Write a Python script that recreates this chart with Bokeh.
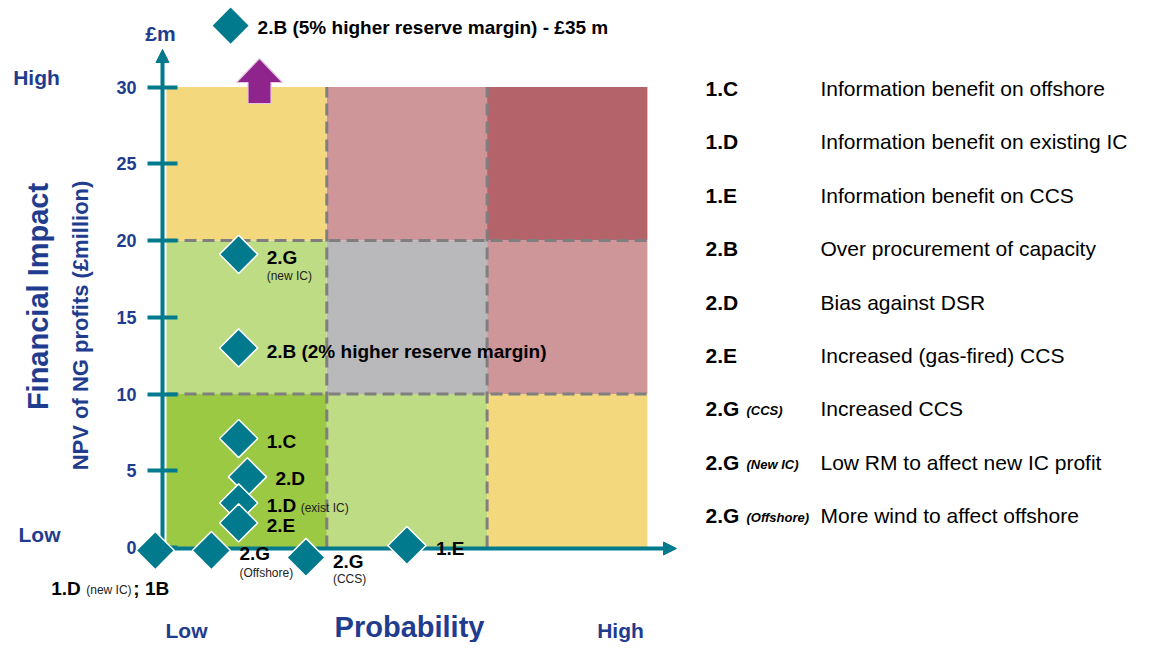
import numpy as np
from bokeh.plotting import figure
from bokeh.models import LinearAxis, FixedTicker, Arrow, NormalHead
from bokeh.core.properties import value
from bokeh.embed import file_html
from bokeh.resources import INLINE

# ---------------- data ----------------
prob_edges = [0, 1, 2, 3]          # Low / Medium / High probability bands
impact_edges = [0, 10, 20, 30]     # NPV bands (£m)
cell_colors = [                    # rows bottom -> top, columns low -> high
    ["#9CC943", "#BEDC84", "#F4D87E"],
    ["#BEDC84", "#B9B9BB", "#CF969A"],
    ["#F4D87E", "#CF969A", "#B5636A"],
]
y_ticks = [0, 5, 10, 15, 20, 25, 30]

risk_ids = ["2.B (5%)", "2.G (new IC)", "2.B (2%)", "1.C", "2.D", "1.D (exist IC)",
            "2.E", "1.D (new IC); 1B", "2.G (Offshore)", "2.G (CCS)", "1.E"]
probability = [0.40, 0.45, 0.45, 0.45, 0.505, 0.45, 0.45, -0.07, 0.28, 0.87, 1.50]
npv = [34.0, 19.1, 13.0, 7.1, 4.6, 2.9, 1.6, -0.2, -0.2, -0.65, 0.13]
main_labels = ["2.B (5% higher reserve margin) - £35 m", "2.G", "2.B (2% higher reserve margin)",
               "1.C", "2.D", "1.D", "2.E", "1.D", "2.G", "2.G", "1.E"]
sub_labels = ["", "(new IC)", "", "", "", "(exist IC)", "", "(new IC)", "(Offshore)", "(CCS)", ""]
extra_labels = ["", "", "", "", "", "", "", "; 1B", "", "", ""]

legend_codes = ["1.C", "1.D", "1.E", "2.B", "2.D", "2.E", "2.G", "2.G", "2.G"]
legend_quals = ["", "", "", "", "", "", "(CCS)", "(New IC)", "(Offshore)"]
legend_desc = ["Information benefit on offshore", "Information benefit on existing IC",
               "Information benefit on CCS", "Over procurement of capacity",
               "Bias against DSR", "Increased (gas-fired) CCS", "Increased CCS",
               "Low RM to affect new IC profit", "More wind to affect offshore"]

# ---------------- layout / style ----------------
W, H = 1137, 642
PX0, PY0, SX, SY = 166.0, 547.0, 160.3, 15.35   # px of data origin, px per unit


def X(px):
    return (px - PX0) / SX


def Y(py):
    return (PY0 - py) / SY


TEAL = "#007A8C"
NAVY = "#1F3C8E"
FONT = value("Liberation Sans")

p = figure(width=W, height=H, x_range=(X(0), X(W)), y_range=(Y(H), Y(0)),
           output_backend="svg", toolbar_location=None, x_axis_type=None, y_axis_type=None,
           min_border=0, outline_line_color=None, background_fill_color="white")
p.xgrid.visible = False
p.ygrid.visible = False

# cells
lefts, rights, bottoms, tops, colors = [], [], [], [], []
for r in range(3):
    for c in range(3):
        lefts.append(prob_edges[c]); rights.append(prob_edges[c + 1])
        bottoms.append(impact_edges[r]); tops.append(impact_edges[r + 1])
        colors.append(cell_colors[r][c])
p.quad(left=lefts, right=rights, bottom=bottoms, top=tops, fill_color=colors, line_color=None)

# dashed grid
hy = impact_edges[1:3]
p.segment(x0=[prob_edges[0]] * 2, x1=[prob_edges[-1]] * 2, y0=hy, y1=hy,
          line_color="#7F7F7F", line_width=3, line_dash="12 6")
vx = prob_edges[1:3]
p.segment(x0=vx, x1=vx, y0=[impact_edges[0]] * 2, y1=[impact_edges[-1]] * 2,
          line_color="#7F7F7F", line_width=3, line_dash="12 6")

# axes lines with arrows
ax_x = X(162)
ax_y = Y(548)
p.add_layout(Arrow(end=NormalHead(size=13, fill_color=TEAL, line_color=TEAL),
                   x_start=ax_x, y_start=ax_y, x_end=ax_x, y_end=Y(49),
                   line_color=TEAL, line_width=4))
p.add_layout(Arrow(end=NormalHead(size=13, fill_color=TEAL, line_color=TEAL),
                   x_start=ax_x, y_start=ax_y, x_end=X(676), y_end=ax_y,
                   line_color=TEAL, line_width=4))

yaxis = LinearAxis(fixed_location=ax_x, ticker=FixedTicker(ticks=y_ticks),
                   axis_line_color=None, major_tick_in=15, major_tick_out=15,
                   major_tick_line_color=TEAL, major_tick_line_width=4,
                   minor_tick_line_color=None, major_label_standoff=11,
                   major_label_text_font="Liberation Sans", major_label_text_font_size="18px",
                   major_label_text_font_style="bold", major_label_text_color=NAVY)
p.add_layout(yaxis, "left")

# purple "off the scale" arrow (shape in pixel units around an anchor)
ax_c, ay_b = X(259), Y(103)
shape_px = [(0, 45), (23, 21), (11.5, 21), (11.5, 0), (-11.5, 0), (-11.5, 21), (-23, 21)]
p.patch([ax_c + dx / SX for dx, dy in shape_px], [ay_b + dy / SY for dx, dy in shape_px],
        fill_color="#8E248C", line_color="#E6C3E3", line_width=1.2)

# diamonds
p.scatter(x=probability, y=npv, marker="square", angle=np.pi / 4, size=27,
          fill_color=TEAL, line_color="white", line_width=1.5, level="overlay")

# labels
main_dx = [27, 28, 28, 28, 28, 28, 28, -104, 28, 27, 29]
main_dy = [2, 3, 4, 3, 2, 3, 3, 38, 3, 4, 3]
sub_dx = [0, 28, 0, 0, 0, 62, 0, -69, 28, 27, 0]
sub_dy = [0, 22, 0, 0, 0, 5, 0, 39, 22, 22, 0]
extra_dx = [0, 0, 0, 0, 0, 0, 0, -22, 0, 0, 0]
extra_dy = [0, 0, 0, 0, 0, 0, 0, 38, 0, 0, 0]
p.text(x=probability, y=npv, text=main_labels, x_offset=main_dx, y_offset=main_dy,
       text_font=FONT, text_font_size="19px", text_font_style="bold", text_color="black",
       text_baseline="middle", text_align="left", level="overlay")
p.text(x=probability, y=npv, text=sub_labels, x_offset=sub_dx, y_offset=sub_dy,
       text_font=FONT, text_font_size="12px", text_color="#222222",
       text_baseline="middle", text_align="left", level="overlay")
p.text(x=probability, y=npv, text=extra_labels, x_offset=extra_dx, y_offset=extra_dy,
       text_font=FONT, text_font_size="19px", text_font_style="bold", text_color="black",
       text_baseline="middle", text_align="left", level="overlay")

# axis titles and band labels
p.text(x=[X(37)], y=[Y(296)], text=["Financial Impact"], angle=np.pi / 2,
       text_font=FONT, text_font_size="29px", text_font_style="bold", text_color=NAVY,
       text_align="center", text_baseline="middle")
p.text(x=[X(80)], y=[Y(325)], text=["NPV of NG profits (£million)"], angle=np.pi / 2,
       text_font=FONT, text_font_size="22px", text_font_style="bold", text_color=NAVY,
       text_align="center", text_baseline="middle")
p.text(x=[X(160)], y=[Y(33)], text=["£m"],
       text_font=FONT, text_font_size="21px", text_font_style="bold", text_color=NAVY,
       text_align="center", text_baseline="middle")
p.text(x=[X(36), X(39)], y=[Y(77), Y(534)], text=["High", "Low"],
       text_font=FONT, text_font_size="21px", text_font_style="bold", text_color=NAVY,
       text_align="center", text_baseline="middle")
p.text(x=[X(186), X(620)], y=[Y(630), Y(630)], text=["Low", "High"],
       text_font=FONT, text_font_size="21px", text_font_style="bold", text_color=NAVY,
       text_align="center", text_baseline="middle")
p.text(x=[X(409)], y=[Y(626)], text=["Probability"],
       text_font=FONT, text_font_size="29px", text_font_style="bold", text_color=NAVY,
       text_align="center", text_baseline="middle")

# legend (right)
rows = np.arange(len(legend_codes))
ly = [Y(88 + 53.4 * i) for i in rows]
p.text(x=[X(705)] * len(rows), y=ly, text=legend_codes,
       text_font=FONT, text_font_size="21px", text_font_style="bold", text_color="black",
       text_align="left", text_baseline="middle")
p.text(x=[X(746)] * len(rows), y=ly, text=legend_quals, y_offset=2,
       text_font=FONT, text_font_size="13px", text_font_style="bold italic", text_color="black",
       text_align="left", text_baseline="middle")
p.text(x=[X(820)] * len(rows), y=ly, text=legend_desc,
       text_font=FONT, text_font_size="21px", text_color="black",
       text_align="left", text_baseline="middle")

open("out.html", "w").write(file_html(p, INLINE))
